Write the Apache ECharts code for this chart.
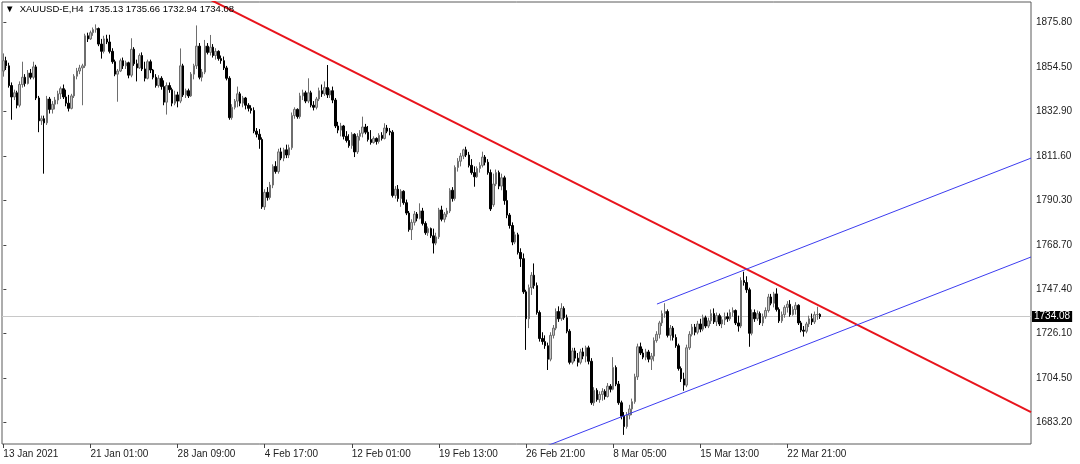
<!DOCTYPE html>
<html><head><meta charset="utf-8">
<script src="https://cdn.jsdelivr.net/npm/echarts@6/dist/echarts.min.js"></script>
<style>html,body{margin:0;padding:0;background:#fff}#c{width:1080px;height:464px}</style>
</head><body><div id="c"></div>
<script>
// ---------------- data ----------------
const symbolName = 'XAUUSD-E,H4';
const tickBars = [0, 32, 64, 96, 128, 160, 192, 224, 256, 288];
const tickLabels = ['13 Jan 2021', '21 Jan 01:00', '28 Jan 09:00', '4 Feb 17:00', '12 Feb 01:00',
  '19 Feb 13:00', '26 Feb 21:00', '8 Mar 05:00', '15 Mar 13:00', '22 Mar 21:00'];
const priceTicks = [1683.20, 1704.50, 1726.10, 1747.40, 1768.70, 1790.30, 1811.60, 1832.90, 1854.50, 1875.80];
const priceMin = 1672.6, priceMax = 1885.8;
const lastPrice = 1734.08;
// trend lines: [barIndex, price]
const redTrend = [[73, 1888.9], [377.5, 1688.0]];
const channelUpper = [[240.1, 1740.1], [377.5, 1810.5]];
const channelLower = [[195, 1669.3], [377.5, 1762.8]];
// candles: [open, close, low, high]
const candles = [
[1852.5,1857.5,1849.8,1861.0],[1857.5,1855.0,1853.0,1859.4],[1855.0,1845.5,1844.5,1856.5],[1845.5,1840.0,1829.0,1847.0],
[1840.0,1842.0,1838.5,1843.5],[1842.0,1836.0,1834.5,1843.0],[1836.0,1846.0,1835.0,1847.5],[1846.0,1849.5,1844.5,1857.0],
[1849.5,1846.5,1845.0,1851.0],[1846.5,1851.5,1846.0,1853.0],[1851.5,1849.5,1848.5,1853.5],[1849.5,1854.5,1848.5,1857.0],
[1854.5,1839.5,1838.5,1855.5],[1839.5,1828.5,1823.0,1840.5],[1828.5,1829.5,1826.5,1831.0],[1829.5,1827.5,1803.0,1831.0],
[1827.5,1839.0,1826.5,1840.5],[1839.0,1834.0,1832.0,1840.0],[1834.0,1836.5,1832.0,1838.0],[1836.5,1838.5,1834.0,1840.0],
[1838.5,1841.5,1836.5,1843.0],[1841.5,1844.0,1839.0,1845.0],[1844.0,1840.0,1839.0,1846.0],[1840.0,1837.0,1835.5,1843.5],
[1837.0,1834.5,1833.0,1841.0],[1834.5,1840.5,1834.0,1841.5],[1840.5,1850.0,1839.5,1851.0],[1850.0,1852.5,1848.5,1854.0],
[1852.5,1854.0,1851.0,1855.5],[1854.0,1855.0,1836.0,1856.0],[1855.0,1869.5,1854.0,1870.5],[1869.5,1868.0,1866.5,1871.0],
[1868.0,1871.0,1867.5,1872.0],[1871.0,1872.5,1869.5,1873.5],[1872.5,1873.0,1871.0,1875.0],[1873.0,1865.5,1864.5,1873.5],
[1865.5,1862.0,1858.5,1868.0],[1862.0,1868.0,1861.0,1869.5],[1868.0,1866.5,1865.5,1870.0],[1866.5,1862.0,1861.0,1870.0],
[1862.0,1857.0,1856.0,1863.5],[1857.0,1851.0,1850.0,1858.0],[1851.0,1852.5,1837.7,1853.5],[1852.5,1857.5,1852.0,1858.5],
[1857.5,1855.0,1853.5,1859.0],[1855.0,1856.5,1853.5,1857.5],[1856.5,1850.5,1849.0,1857.0],[1850.5,1863.0,1849.5,1868.3],
[1863.0,1856.0,1855.0,1864.0],[1856.0,1854.0,1847.5,1858.0],[1854.0,1860.0,1853.5,1861.0],
[1860.0,1853.5,1852.5,1861.5],[1853.5,1849.0,1847.5,1857.0],[1849.0,1857.0,1848.5,1858.0],[1857.0,1853.0,1851.5,1858.0],
[1853.0,1849.5,1848.5,1853.5],[1849.5,1845.5,1844.5,1851.0],[1845.5,1849.0,1844.5,1850.5],[1849.0,1845.0,1843.5,1850.0],
[1845.0,1837.5,1836.0,1848.0],[1837.5,1845.5,1831.5,1847.0],[1845.5,1843.5,1842.0,1847.0],[1843.5,1837.0,1835.5,1844.5],
[1837.0,1841.0,1836.0,1843.0],[1841.0,1838.0,1835.0,1842.5],[1838.0,1855.0,1837.0,1863.4],[1855.0,1841.0,1840.0,1856.0],
[1841.0,1843.0,1839.5,1844.0],[1843.0,1840.5,1839.5,1844.0],[1840.5,1851.0,1840.0,1852.0],[1851.0,1855.0,1848.5,1856.0],
[1855.0,1864.5,1853.5,1874.5],[1864.5,1849.5,1848.5,1866.0],[1849.5,1852.0,1847.5,1853.5],[1852.0,1864.5,1851.0,1867.5],
[1864.5,1861.5,1860.5,1866.0],[1861.5,1864.0,1860.0,1869.9],[1864.0,1860.0,1859.0,1865.5],[1860.0,1862.0,1858.0,1863.5],
[1862.0,1858.5,1857.5,1862.5],[1858.5,1857.5,1856.0,1860.0],[1857.5,1854.0,1853.0,1859.5],[1854.0,1849.0,1848.0,1855.0],
[1849.0,1830.0,1829.0,1850.0],[1830.0,1835.0,1829.0,1836.5],[1835.0,1838.0,1834.0,1839.0],[1838.0,1841.5,1835.0,1845.0],
[1841.5,1837.0,1835.5,1842.5],[1837.0,1839.5,1835.0,1840.5],[1839.5,1836.0,1834.0,1840.0],[1836.0,1834.5,1833.0,1837.0],
[1834.5,1833.5,1832.0,1836.0],[1833.5,1823.5,1822.5,1835.0],[1823.5,1822.0,1820.5,1825.0],[1822.0,1819.5,1815.0,1824.5],
[1819.5,1787.0,1786.0,1820.5],[1787.0,1794.0,1785.5,1795.5],[1794.0,1791.5,1790.0,1796.5],
[1791.5,1797.5,1790.5,1799.0],[1797.5,1806.5,1796.0,1807.5],[1806.5,1804.0,1803.0,1809.0],[1804.0,1813.5,1803.0,1815.0],
[1813.5,1810.5,1809.5,1815.5],[1810.5,1814.5,1809.0,1815.5],[1814.5,1812.0,1810.5,1817.0],[1812.0,1815.5,1810.5,1817.0],
[1815.5,1831.0,1814.5,1832.5],[1831.0,1834.0,1829.5,1835.0],[1834.0,1830.5,1829.5,1834.5],[1830.5,1840.5,1829.5,1842.0],
[1840.5,1842.0,1838.5,1843.5],[1842.0,1838.0,1837.0,1843.0],[1838.0,1842.0,1837.0,1849.0],[1842.0,1836.0,1835.0,1843.0],
[1836.0,1835.0,1833.5,1838.0],[1835.0,1839.0,1834.0,1840.0],[1839.0,1843.0,1838.0,1844.5],[1843.0,1841.5,1840.0,1846.0],
[1841.5,1844.5,1840.5,1847.5],[1844.5,1841.0,1839.5,1855.4],[1841.0,1843.0,1839.5,1844.0],[1843.0,1838.5,1837.0,1845.0],
[1838.5,1826.0,1825.0,1839.5],[1826.0,1824.0,1822.5,1828.0],[1824.0,1826.0,1821.0,1827.5],[1826.0,1821.0,1819.5,1826.5],
[1821.0,1819.0,1818.0,1823.5],[1819.0,1816.5,1815.5,1822.0],[1816.5,1822.0,1815.0,1823.0],[1822.0,1813.5,1811.0,1822.5],
[1813.5,1821.0,1812.5,1822.5],[1821.0,1822.5,1819.0,1824.0],[1822.5,1825.5,1820.5,1830.5],[1825.5,1823.0,1822.0,1827.0],
[1823.0,1819.5,1818.5,1826.0],[1819.5,1818.0,1817.0,1824.0],[1818.0,1820.0,1817.5,1821.0],[1820.0,1818.5,1817.0,1820.5],
[1818.5,1821.5,1817.5,1822.5],[1821.5,1820.0,1819.0,1823.0],[1820.0,1825.0,1819.5,1827.3],[1825.0,1823.5,1822.5,1826.5],
[1823.5,1823.0,1821.5,1825.0],[1823.0,1792.5,1791.5,1824.0],[1792.5,1795.5,1791.0,1797.0],
[1795.5,1791.0,1789.5,1797.5],[1791.0,1794.5,1787.0,1795.5],[1794.5,1789.0,1788.0,1795.0],[1789.0,1784.0,1783.0,1790.5],
[1784.0,1776.0,1775.0,1785.0],[1776.0,1779.5,1771.0,1781.0],[1779.5,1783.5,1778.0,1785.0],[1783.5,1781.5,1780.0,1784.5],
[1781.5,1785.0,1781.0,1788.7],[1785.0,1779.0,1778.0,1786.5],[1779.0,1774.5,1773.5,1780.0],[1774.5,1776.5,1773.0,1777.5],
[1776.5,1773.0,1772.0,1777.0],[1773.0,1769.5,1764.5,1776.5],[1769.5,1772.5,1768.5,1774.5],[1772.5,1785.5,1771.5,1786.5],
[1785.5,1781.0,1780.0,1787.5],[1781.0,1783.5,1779.5,1784.5],[1783.5,1785.0,1782.0,1786.5],[1785.0,1795.0,1784.0,1796.0],
[1795.0,1791.0,1789.5,1796.5],[1791.0,1806.0,1790.0,1807.0],[1806.0,1809.0,1804.0,1810.5],[1809.0,1811.5,1806.5,1813.0],
[1811.5,1814.5,1810.0,1815.0],[1814.5,1812.0,1811.0,1816.0],[1812.0,1807.0,1806.0,1813.5],[1807.0,1803.5,1802.5,1810.0],
[1803.5,1801.5,1796.7,1806.5],[1801.5,1805.5,1801.0,1806.5],[1805.5,1807.0,1803.5,1808.5],[1807.0,1811.0,1806.0,1813.6],
[1811.0,1808.5,1807.0,1812.0],[1808.5,1803.5,1802.5,1810.0],[1803.5,1786.0,1785.0,1805.0],[1788.0,1798.0,1787.0,1803.0],
[1798.0,1803.5,1797.0,1805.0],[1803.5,1797.0,1795.5,1804.5],[1797.0,1801.0,1795.0,1803.0],[1801.0,1790.0,1788.0,1802.0],
[1790.0,1783.0,1781.5,1795.0],[1783.0,1778.0,1776.5,1784.0],[1778.0,1770.0,1768.5,1779.5],[1770.0,1773.5,1769.0,1775.0],
[1773.5,1765.0,1764.0,1774.5],[1765.0,1762.0,1758.0,1767.0],[1762.0,1746.0,1745.0,1764.5],[1746.0,1733.0,1718.0,1747.0],
[1733.0,1748.0,1728.5,1749.5],[1748.0,1754.0,1744.5,1755.5],[1754.0,1749.0,1747.5,1759.7],
[1749.0,1736.0,1735.0,1750.5],[1736.0,1723.5,1722.0,1737.0],[1723.5,1722.0,1720.5,1726.5],[1722.0,1720.0,1718.5,1725.0],
[1720.0,1713.5,1708.3,1721.5],[1713.5,1725.0,1712.5,1726.5],[1725.0,1728.5,1723.5,1730.0],[1728.5,1736.5,1727.5,1738.0],
[1736.5,1733.0,1731.5,1739.0],[1733.0,1738.0,1732.0,1740.5],[1738.0,1733.5,1732.5,1739.0],[1733.5,1727.0,1726.0,1735.0],
[1727.0,1712.0,1711.0,1728.0],[1712.0,1717.5,1711.0,1719.0],[1717.5,1714.0,1712.5,1719.0],[1714.0,1712.0,1710.0,1716.5],
[1712.0,1717.0,1711.0,1718.5],[1717.0,1715.0,1713.5,1719.0],[1715.0,1719.0,1712.0,1720.0],[1719.0,1712.5,1711.0,1720.0],
[1712.5,1692.5,1691.5,1714.0],[1692.5,1698.5,1691.0,1700.0],[1698.5,1694.0,1693.0,1699.5],[1694.0,1696.5,1692.5,1698.0],
[1696.5,1698.0,1693.5,1699.5],[1698.0,1695.5,1694.0,1699.0],[1695.5,1700.5,1695.0,1702.0],[1700.5,1699.0,1697.5,1701.5],
[1699.0,1709.5,1698.5,1714.5],[1709.5,1701.5,1700.5,1710.5],[1701.5,1692.5,1691.5,1703.0],[1692.5,1686.0,1684.5,1693.5],
[1686.0,1681.0,1677.0,1688.0],[1681.0,1686.5,1680.0,1688.0],[1686.5,1689.5,1684.5,1691.5],[1689.5,1693.0,1686.5,1694.5],
[1693.0,1705.0,1692.0,1706.5],[1705.0,1719.5,1703.5,1721.0],[1719.5,1716.5,1715.5,1721.5],[1716.5,1714.5,1713.5,1718.5],
[1714.5,1717.0,1713.0,1718.5],[1717.0,1713.5,1712.0,1718.0],[1713.5,1715.0,1708.3,1716.5],[1715.0,1722.5,1712.5,1724.0],
[1722.5,1725.5,1721.5,1727.0],[1725.5,1731.0,1723.5,1732.0],[1731.0,1735.5,1729.5,1737.0],
[1735.5,1736.5,1733.5,1740.5],[1736.5,1725.0,1724.0,1737.5],[1725.0,1728.5,1722.5,1730.0],[1728.5,1724.0,1722.5,1729.5],
[1724.0,1720.0,1719.0,1725.5],[1720.0,1709.0,1708.0,1721.0],[1709.0,1704.0,1702.5,1710.0],[1704.0,1701.0,1698.3,1707.0],
[1701.0,1719.0,1700.0,1720.5],[1719.0,1725.5,1718.0,1727.0],[1725.5,1729.0,1724.5,1730.5],[1729.0,1726.5,1725.0,1730.5],
[1726.5,1730.5,1725.5,1732.0],[1730.5,1728.0,1726.5,1733.0],[1728.0,1733.5,1727.0,1735.0],[1733.5,1729.5,1728.5,1734.5],
[1729.5,1732.0,1728.5,1733.5],[1732.0,1735.5,1730.5,1737.5],[1735.5,1731.5,1730.5,1738.0],[1731.5,1734.5,1729.5,1736.0],
[1734.5,1730.5,1729.5,1735.5],[1730.5,1732.5,1728.5,1734.0],[1732.5,1734.0,1730.0,1736.0],[1734.0,1733.0,1731.5,1736.0],
[1733.0,1736.0,1732.0,1737.5],[1736.0,1737.0,1734.0,1738.5],[1737.0,1731.0,1730.0,1737.5],[1731.0,1729.5,1726.8,1734.5],
[1729.5,1751.5,1728.5,1753.0],[1751.5,1750.5,1749.0,1755.7],[1750.5,1747.0,1745.5,1753.5],[1747.0,1726.0,1719.5,1748.0],
[1726.0,1736.0,1725.0,1737.5],[1736.0,1733.0,1731.5,1737.5],[1733.0,1735.5,1732.0,1737.0],[1735.5,1731.0,1730.0,1736.5],
[1731.0,1734.0,1729.5,1735.5],[1734.0,1737.0,1733.0,1738.5],[1737.0,1743.5,1736.0,1745.0],[1743.5,1740.5,1739.5,1745.0],
[1740.5,1745.0,1738.5,1746.0],[1745.0,1737.5,1736.5,1747.7],[1737.5,1732.0,1731.0,1738.5],[1732.0,1735.0,1731.0,1736.5],
[1735.0,1738.5,1733.5,1739.5],[1738.5,1740.0,1736.0,1741.5],[1740.0,1735.0,1734.0,1742.0],
[1735.0,1737.5,1734.5,1739.0],[1737.5,1739.5,1735.0,1741.0],[1739.5,1731.0,1730.0,1740.0],[1731.0,1727.5,1726.5,1732.0],
[1727.5,1727.0,1724.4,1729.5],[1727.0,1730.5,1726.0,1731.5],[1730.5,1733.0,1729.0,1734.5],[1733.0,1731.5,1730.0,1735.5],
[1731.5,1735.0,1730.5,1736.5],[1735.0,1735.1,1732.5,1738.8],[1735.13,1734.08,1732.94,1735.66]
];
// ---------------- chart ----------------
const totalSlots = 378; // bars + empty right-side shift of the terminal
const slots = [];
for (let i = 0; i < totalSlots; i++) slots.push(String(i));
const last = candles[candles.length - 1];
const ohlcText = [last[0], last[3], last[2], last[1]].map(v => v.toFixed(2)).join(' ');
const font = 'Liberation Sans';
const isTick = (idx) => tickBars.indexOf(idx) >= 0;

const chart = echarts.init(document.getElementById('c'), null, {renderer: 'canvas'});
chart.setOption({
  animation: false,
  backgroundColor: '#ffffff',
  title: {
    text: '\u25BC  ' + symbolName + '  ' + ohlcText,
    left: 5, top: 4, padding: 0,
    textStyle: {fontFamily: font, fontSize: 9.5, fontWeight: 'normal', color: '#000'}
  },
  grid: {left: 2, right: 49, top: 2, bottom: 20, show: true, borderColor: '#5a5a5a', borderWidth: 1},
  xAxis: [{
    type: 'category', data: slots, boundaryGap: true,
    axisLine: {show: false},
    axisTick: {show: true, alignWithLabel: true, interval: (i) => isTick(i), length: 4, lineStyle: {color: '#444'}},
    axisLabel: {interval: (i) => isTick(i), formatter: (v, i) => tickLabels[tickBars.indexOf(i)] || '',
      align: 'left', margin: 5, fontFamily: font, fontSize: 10, color: '#222'},
    splitLine: {show: false}
  }, {
    type: 'value', min: -0.5, max: totalSlots - 0.5, show: false
  }],
  yAxis: {
    type: 'value', position: 'right', min: priceMin, max: priceMax, scale: true,
    axisLine: {show: false},
    axisTick: {show: true, customValues: priceTicks, length: 3, lineStyle: {color: '#444'}},
    axisLabel: {customValues: priceTicks, formatter: v => v.toFixed(2), margin: 5,
      fontFamily: font, fontSize: 10, color: '#222'},
    splitLine: {show: false}
  },
  series: [{
    type: 'candlestick', data: candles, barWidth: 2, xAxisIndex: 0,
    itemStyle: {color: '#c4c4c4', color0: '#000000', borderColor: '#6e6e6e', borderColor0: '#000000', borderWidth: 1},
    emphasis: {disabled: true},
    markLine: {
      silent: true, symbol: 'none', animation: false, z: 1,
      lineStyle: {color: '#c8c8c8', width: 1, type: 'solid'},
      label: {position: 'end', distance: 1, formatter: p => p.value.toFixed(2), backgroundColor: '#000',
        color: '#fff', padding: [1, 2, 0, 2], fontFamily: font, fontSize: 10},
      data: [{yAxis: lastPrice}]
    }
  }, {
    type: 'line', xAxisIndex: 1, data: redTrend, showSymbol: false, clip: true, z: 5,
    lineStyle: {color: '#e8141c', width: 2}, silent: true
  }, {
    type: 'line', xAxisIndex: 1, data: channelUpper, showSymbol: false, clip: true, z: 5,
    lineStyle: {color: '#3c3cf0', width: 1}, silent: true
  }, {
    type: 'line', xAxisIndex: 1, data: channelLower, showSymbol: false, clip: true, z: 5,
    lineStyle: {color: '#3c3cf0', width: 1}, silent: true
  }]
});
</script>
</body></html>
